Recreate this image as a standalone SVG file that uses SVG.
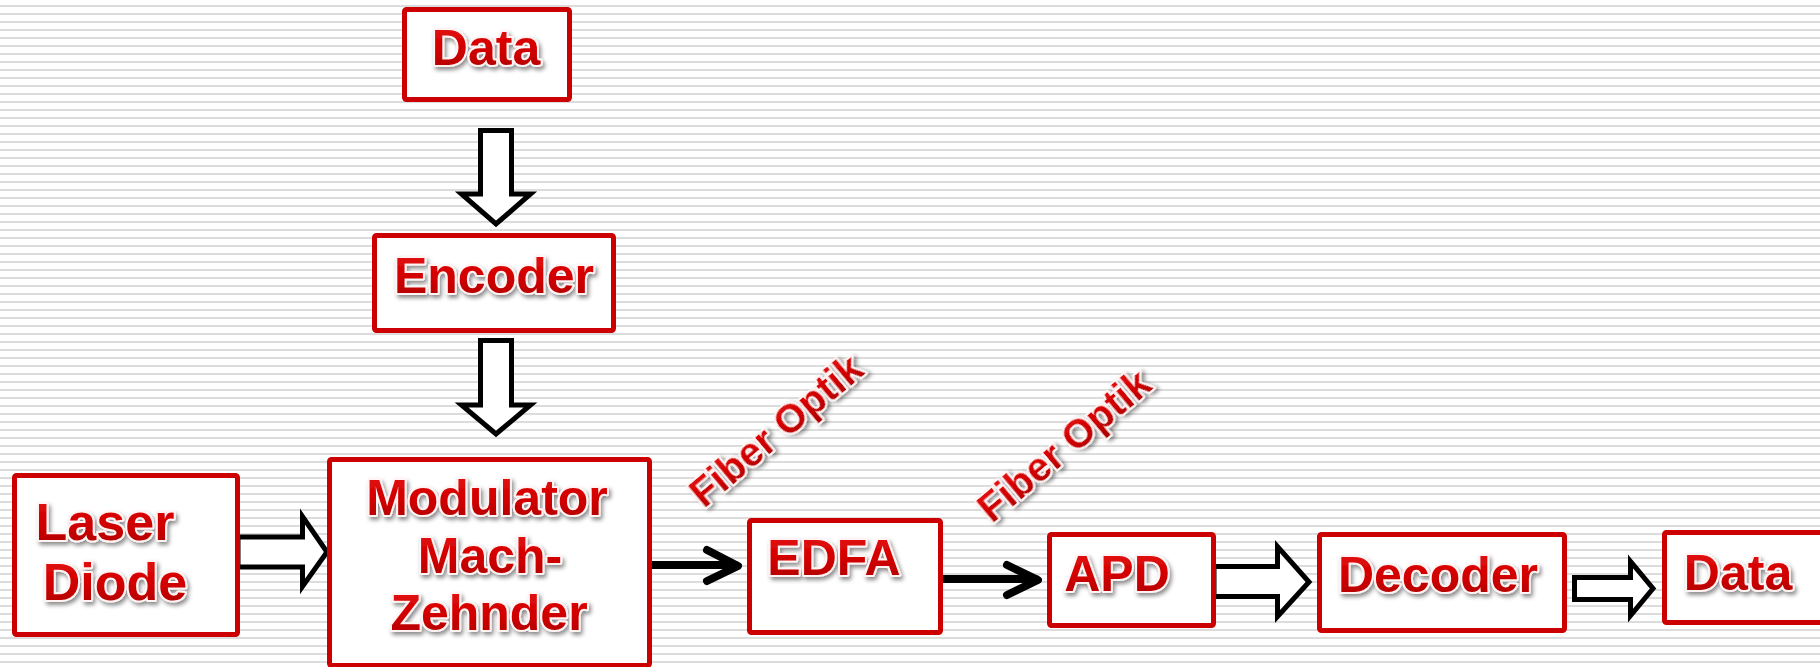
<svg xmlns="http://www.w3.org/2000/svg" width="1820" height="667" viewBox="0 0 1820 667">
  <defs>
    <pattern id="stripes" x="0" y="0" width="8" height="8" patternUnits="userSpaceOnUse">
      <rect x="0" y="5" width="8" height="2" fill="#dcdcdc"/>
    </pattern>
    <linearGradient id="redText" x1="0" y1="0" x2="0" y2="1">
      <stop offset="0" stop-color="#e81010"/>
      <stop offset="0.55" stop-color="#d00000"/>
      <stop offset="1" stop-color="#a80000"/>
    </linearGradient>
    <filter id="shadow" x="-10%" y="-20%" width="120%" height="150%">
      <feDropShadow dx="2" dy="3" stdDeviation="2" flood-color="#000" flood-opacity="0.45"/>
    </filter>
  </defs>
  <style>
    .box { fill: #ffffff; stroke: #cc0000; stroke-width: 5; }
    .lbl { font-family: "Liberation Sans", Arial, sans-serif; font-weight: bold; font-size: 50px;
           fill: url(#redText); stroke: #fff3f3; stroke-width: 4; stroke-linejoin: round;
           paint-order: stroke; text-anchor: middle; filter: url(#shadow); }
    .fiber { font-size: 40px; text-anchor: start; }
    .hollow { fill: #ffffff; stroke: #000000; stroke-width: 5; stroke-linejoin: miter; }
    .thin { fill: none; stroke: #000000; stroke-width: 8; stroke-linecap: round; stroke-linejoin: round; }
  </style>

  <!-- striped backdrop -->
  <rect x="0" y="0" width="1820" height="667" fill="#ffffff"/>
  <rect x="0" y="0" width="1820" height="667" fill="url(#stripes)"/>

  <!-- connectors -->
  <g id="connectors">
    <polygon class="hollow" points="480.5,130.5 511.5,130.5 511.5,194 530.5,194 496,224 461.5,194 480.5,194"/>
    <polygon class="hollow" points="480.5,340.5 511.5,340.5 511.5,405 530.5,405 496,434 461.5,405 480.5,405"/>
    <polygon class="hollow" points="238,537 302.5,537 302.5,516.5 327,552 302.5,586.5 302.5,567 238,567"/>
    <path class="thin" d="M652,565 H736 M707,550 L738,566 L707,581"/>
    <path class="thin" d="M943,579 H1036 M1007,565 L1038,580 L1007,595"/>
    <polygon class="hollow" points="1214,566.5 1277.5,566.5 1277.5,546.5 1309,582 1277.5,616.5 1277.5,596.5 1214,596.5"/>
    <polygon class="hollow" points="1574.5,577.5 1630.5,577.5 1630.5,561.5 1653,588.5 1630.5,615.5 1630.5,599.5 1574.5,599.5"/>
  </g>

  <!-- nodes -->
  <g id="data-in">
    <rect class="box" x="404.5" y="9.5" width="165" height="90" rx="2"/>
    <text class="lbl" x="486" y="65">Data</text>
  </g>
  <g id="encoder">
    <rect class="box" x="374.5" y="235.5" width="239" height="95" rx="2"/>
    <text class="lbl" x="494" y="293">Encoder</text>
  </g>
  <g id="laser-diode">
    <rect class="box" x="14.5" y="475.5" width="223" height="159" rx="2"/>
    <text class="lbl" x="105" y="540" style="font-size:52px">Laser</text>
    <text class="lbl" x="115" y="600" style="font-size:52px">Diode</text>
  </g>
  <g id="modulator">
    <rect class="box" x="329.5" y="459.5" width="320" height="206" rx="2"/>
    <text class="lbl" x="487" y="515">Modulator</text>
    <text class="lbl" x="490" y="573">Mach-</text>
    <text class="lbl" x="489" y="630">Zehnder</text>
  </g>
  <g id="edfa">
    <rect class="box" x="749.5" y="520.5" width="191" height="112" rx="2"/>
    <text class="lbl" x="834" y="575">EDFA</text>
  </g>
  <g id="apd">
    <rect class="box" x="1049.5" y="534.5" width="164" height="91" rx="2"/>
    <text class="lbl" x="1117" y="591">APD</text>
  </g>
  <g id="decoder">
    <rect class="box" x="1319.5" y="534.5" width="245" height="96" rx="2"/>
    <text class="lbl" x="1438" y="592">Decoder</text>
  </g>
  <g id="data-out">
    <rect class="box" x="1664.5" y="532.5" width="200" height="90" rx="2"/>
    <text class="lbl" x="1738" y="590">Data</text>
  </g>

  <!-- link labels -->
  <g id="fiber-label-1">
    <text class="lbl fiber" transform="translate(704,509) rotate(-40)">Fiber Optik</text>
  </g>
  <g id="fiber-label-2">
    <text class="lbl fiber" transform="translate(992,524) rotate(-40)">Fiber Optik</text>
  </g>
</svg>
